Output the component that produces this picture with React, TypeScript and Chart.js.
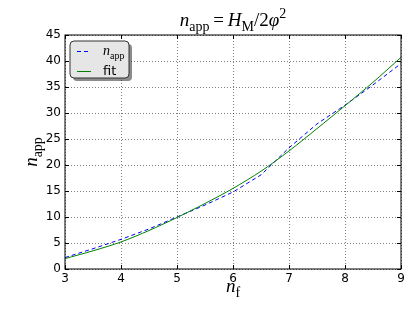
import React, { useEffect, useRef } from 'react';
import { Chart, registerables } from 'chart.js';

Chart.register(...registerables);

// ---- data ----
const nF = [3, 3.5, 4, 4.5, 5, 5.5, 6, 6.5, 7, 7.5, 8, 8.5, 9];
const nAppValues = [2.2, 3.9, 5.7, 7.7, 10.0, 12.3, 14.8, 18.1, 23.3, 27.9, 31.5, 35.4, 39.5];
const fitValues = [2.0, 3.5, 5.2, 7.4, 9.9, 12.6, 15.5, 18.8, 22.7, 27.0, 31.4, 35.9, 40.7];
const xTicks = [3, 4, 5, 6, 7, 8, 9];
const yTicks = [0, 5, 10, 15, 20, 25, 30, 35, 40, 45];
const legendLabels = ['n_app', 'fit'];

const BLUE = '#0000ff';
const GREEN = '#008000';
const SERIF = '"Liberation Serif", "Times New Roman", serif';
const SANS = '"DejaVu Sans", sans-serif';

type Part = { t: string; i?: boolean; pos?: 'sub' | 'sup' };

function drawMath(ctx: CanvasRenderingContext2D, parts: Part[], x: number, y: number, size: number, align: 'left' | 'center') {
  const items = parts.map((p) => {
    const s = p.pos ? Math.round(size * 0.72) : size;
    const font = `${p.i ? 'italic ' : ''}${s}px ${SERIF}`;
    ctx.font = font;
    const w = ctx.measureText(p.t).width;
    const dy = p.pos === 'sub' ? size * 0.28 : p.pos === 'sup' ? -size * 0.42 : 0;
    return { font, w, dy, t: p.t };
  });
  const total = items.reduce((a, b) => a + b.w, 0);
  let cx = align === 'center' ? x - total / 2 : x;
  ctx.textAlign = 'left';
  ctx.textBaseline = 'alphabetic';
  for (const it of items) {
    ctx.font = it.font;
    ctx.fillText(it.t, cx, y + it.dy);
    cx += it.w;
  }
}

function roundRect(ctx: CanvasRenderingContext2D, x: number, y: number, w: number, h: number, r: number) {
  ctx.beginPath();
  ctx.moveTo(x + r, y);
  ctx.lineTo(x + w - r, y);
  ctx.quadraticCurveTo(x + w, y, x + w, y + r);
  ctx.lineTo(x + w, y + h - r);
  ctx.quadraticCurveTo(x + w, y + h, x + w - r, y + h);
  ctx.lineTo(x + r, y + h);
  ctx.quadraticCurveTo(x, y + h, x, y + h - r);
  ctx.lineTo(x, y + r);
  ctx.quadraticCurveTo(x, y, x + r, y);
  ctx.closePath();
}

const decorPlugin = {
  id: 'decor',
  afterDraw(chart: any) {
    const ctx: CanvasRenderingContext2D = chart.ctx;
    const { left, right, top, bottom } = chart.chartArea;
    const xs = chart.scales.x;
    const ys = chart.scales.y;
    ctx.save();
    // frame
    ctx.strokeStyle = '#000';
    ctx.lineWidth = 1;
    ctx.setLineDash([]);
    ctx.strokeRect(left, top, right - left, bottom - top);
    // inward ticks
    ctx.beginPath();
    for (const v of xTicks) {
      const px = Math.round(xs.getPixelForValue(v)) + 0.5;
      ctx.moveTo(px, bottom); ctx.lineTo(px, bottom - 4);
      ctx.moveTo(px, top); ctx.lineTo(px, top + 4);
    }
    for (const v of yTicks) {
      const py = Math.round(ys.getPixelForValue(v)) + 0.5;
      ctx.moveTo(left, py); ctx.lineTo(left + 4, py);
      ctx.moveTo(right, py); ctx.lineTo(right - 4, py);
    }
    ctx.stroke();

    ctx.fillStyle = '#000';
    // title
    drawMath(ctx, [
      { t: 'n', i: true }, { t: 'app', pos: 'sub' }, { t: '\u2009=\u2009' },
      { t: 'H', i: true }, { t: 'M', pos: 'sub' }, { t: '/2' },
      { t: 'φ', i: true }, { t: '2', pos: 'sup' },
    ], (left + right) / 2, 26, 19, 'center');
    // x label
    drawMath(ctx, [{ t: 'n', i: true }, { t: 'f', pos: 'sub' }], (left + right) / 2, 292, 19, 'center');
    // y label
    ctx.save();
    ctx.translate(37, (top + bottom) / 2);
    ctx.rotate(-Math.PI / 2);
    drawMath(ctx, [{ t: 'n', i: true }, { t: 'app', pos: 'sub' }], 0, 0, 19, 'center');
    ctx.restore();

    // legend
    const lx = 70, ly = 41, lw = 59, lh = 37;
    ctx.fillStyle = 'rgba(0,0,0,0.45)';
    roundRect(ctx, lx + 3, ly + 3, lw, lh, 4);
    ctx.fill();
    ctx.fillStyle = '#e6e6e6';
    roundRect(ctx, lx, ly, lw, lh, 4);
    ctx.fill();
    ctx.strokeStyle = '#333';
    ctx.stroke();

    // entry 1
    ctx.strokeStyle = BLUE;
    ctx.lineWidth = 1;
    ctx.setLineDash([4, 3]);
    ctx.beginPath();
    ctx.moveTo(77, 51.5); ctx.lineTo(91, 51.5);
    ctx.stroke();
    ctx.setLineDash([]);
    ctx.fillStyle = '#000';
    drawMath(ctx, [{ t: 'n', i: true }, { t: 'app', pos: 'sub' }], 103, 55, 14, 'left');
    // entry 2
    ctx.strokeStyle = GREEN;
    ctx.beginPath();
    ctx.moveTo(77, 71.5); ctx.lineTo(91, 71.5);
    ctx.stroke();
    ctx.font = `13px ${SANS}`;
    ctx.textAlign = 'left';
    ctx.textBaseline = 'alphabetic';
    ctx.fillText(legendLabels[1], 103, 75);
    ctx.restore();
  },
};

export default function App() {
  const ref = useRef<HTMLCanvasElement>(null);
  useEffect(() => {
    document.body.style.margin = '0';
    const canvas = ref.current!;
    const chart = new Chart(canvas, {
      type: 'line',
      data: {
        datasets: [
          {
            label: legendLabels[0],
            data: nF.map((x, i) => ({ x, y: nAppValues[i] })),
            borderColor: BLUE,
            borderDash: [4, 3],
            borderWidth: 1,
            pointRadius: 0,
            fill: false,
            tension: 0,
            order: 1,
          },
          {
            label: legendLabels[1],
            data: nF.map((x, i) => ({ x, y: fitValues[i] })),
            borderColor: GREEN,
            borderWidth: 1,
            pointRadius: 0,
            fill: false,
            tension: 0.3,
            order: 0,
          },
        ],
      },
      options: {
        animation: false,
        responsive: false,
        devicePixelRatio: 1,
        layout: { padding: { top: 35, right: 14, left: 0, bottom: 0 } },
        plugins: { legend: { display: false }, title: { display: false }, tooltip: { enabled: false } },
        scales: {
          x: {
            type: 'linear',
            min: 3,
            max: 9,
            ticks: { stepSize: 1, color: '#000', font: { family: SANS, size: 12 }, padding: 3, maxRotation: 0 },
            grid: { color: 'rgba(0,0,0,0.5)', drawTicks: false, lineWidth: 1 },
            border: { display: false, dash: [1, 2] },
            afterFit: (s: any) => { s.height = 44; },
          },
          y: {
            min: 0,
            max: 45,
            ticks: { stepSize: 5, color: '#000', font: { family: SANS, size: 12 }, padding: 4 },
            grid: { color: 'rgba(0,0,0,0.5)', drawTicks: false, lineWidth: 1 },
            border: { display: false, dash: [1, 2] },
            afterFit: (s: any) => { s.width = 65; },
          },
        },
      },
      plugins: [decorPlugin],
    } as any);
    return () => chart.destroy();
  }, []);
  return (
    <div style={{ width: 415, height: 313, background: '#fff' }}>
      <canvas ref={ref} width={415} height={313} style={{ display: 'block' }} />
    </div>
  );
}
